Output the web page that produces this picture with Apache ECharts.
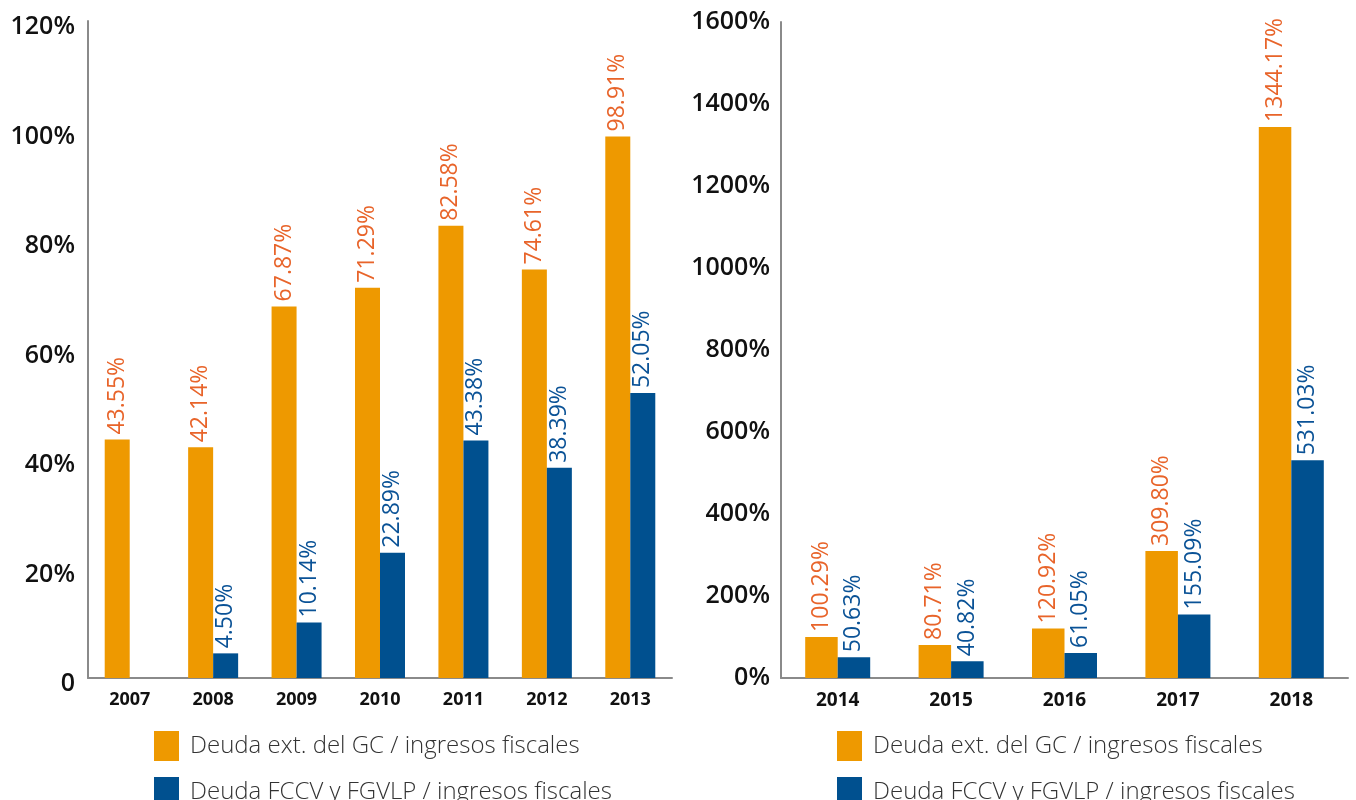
<!DOCTYPE html>
<html>
<head>
<meta charset="utf-8">
<script src="https://cdn.jsdelivr.net/npm/echarts@6/dist/echarts.min.js"></script>
<style>html,body{margin:0;padding:0;background:#fff;}#c{width:1356px;height:800px;}</style>
</head>
<body>
<div id="c"></div>
<script>
const yearsLeft = ['2007','2008','2009','2010','2011','2012','2013'];
const extLeft = [43.55, 42.14, 67.87, 71.29, 82.58, 74.61, 98.91];
const fccvLeft = [null, 4.50, 10.14, 22.89, 43.38, 38.39, 52.05];
const yearsRight = ['2014','2015','2016','2017','2018'];
const extRight = [100.29, 80.71, 120.92, 309.80, 1344.17];
const fccvRight = [50.63, 40.82, 61.05, 155.09, 531.03];
const seriesNames = ['Deuda ext. del GC / ingresos fiscales', 'Deuda FCCV y FGVLP / ingresos fiscales'];

const ORANGE = '#EE9900', BLUE = '#00508F', ORANGE_TXT = '#E8642A', BLUE_TXT = '#0A5296';
const FONT = '"Open Sans", "Noto Sans", sans-serif';

function lbl(color){
  return {show:true, position:'top', rotate:90, align:'left', verticalAlign:'middle', distance:5,
    color:color, fontSize:23, fontWeight:500, fontFamily:FONT,
    formatter: p => p.value==null ? '' : p.value.toFixed(2) + '%'};
}
function legendItem(left, top, name){
  return {left:left, top:top, padding:0, orient:'vertical', icon:'rect', itemWidth:25, itemHeight:30,
    textStyle:{fontSize:24, color:'#333', fontFamily:FONT, fontWeight:300, padding:[0,0,0,6]},
    data:[name], selectedMode:false};
}
const axisLine = {show:true, lineStyle:{color:'#8a8a8a', width:2}};
const chart = echarts.init(document.getElementById('c'));
chart.setOption({
  animation:false,
  textStyle:{fontFamily:FONT},
  grid:[
    {left:88, top:21, width:584, height:657, containLabel:false},
    {left:781, top:22, width:567, height:656, containLabel:false}
  ],
  legend:[
    legendItem(154, 731, seriesNames[0]),
    legendItem(154, 777, seriesNames[1]),
    legendItem(837, 731, seriesNames[0]),
    legendItem(837, 777, seriesNames[1])
  ],
  xAxis:[
    {type:'category', gridIndex:0, data:yearsLeft, axisLine:axisLine, axisTick:{show:false},
     axisLabel:{color:'#111', fontSize:18, fontWeight:'bold', margin:13, fontFamily:FONT}},
    {type:'category', gridIndex:1, data:yearsRight, axisLine:axisLine, axisTick:{show:false},
     axisLabel:{color:'#111', fontSize:19, fontWeight:'bold', margin:13, fontFamily:FONT}}
  ],
  yAxis:[
    {type:'value', gridIndex:0, min:0, max:120, interval:20, axisLine:axisLine, axisTick:{show:false},
     splitLine:{show:false},
     axisLabel:{color:'#111', fontSize:25, fontWeight:600, margin:13, fontFamily:FONT,
       formatter: v => '{a|' + (v===0 ? '0' : v + '%') + '}',
       rich:{a:{fontSize:25, fontWeight:600, color:'#111', fontFamily:FONT, padding:[12,0,0,0]}}}},
    {type:'value', gridIndex:1, min:0, max:1600, interval:200, axisLine:axisLine, axisTick:{show:false},
     splitLine:{show:false},
     axisLabel:{color:'#111', fontSize:25, fontWeight:600, margin:11, fontFamily:FONT,
       formatter: v => v + '%'}}
  ],
  series:[
    {name:seriesNames[0], type:'bar', xAxisIndex:0, yAxisIndex:0, data:extLeft, barWidth:25, barGap:'0%',
     itemStyle:{color:ORANGE}, label:lbl(ORANGE_TXT)},
    {name:seriesNames[1], type:'bar', xAxisIndex:0, yAxisIndex:0, data:fccvLeft, barWidth:25, barGap:'0%',
     itemStyle:{color:BLUE}, label:lbl(BLUE_TXT)},
    {name:seriesNames[0], type:'bar', xAxisIndex:1, yAxisIndex:1, data:extRight, barWidth:32.5, barGap:'0%',
     itemStyle:{color:ORANGE}, label:lbl(ORANGE_TXT)},
    {name:seriesNames[1], type:'bar', xAxisIndex:1, yAxisIndex:1, data:fccvRight, barWidth:32.5, barGap:'0%',
     itemStyle:{color:BLUE}, label:lbl(BLUE_TXT)}
  ]
});
</script>
</body>
</html>
